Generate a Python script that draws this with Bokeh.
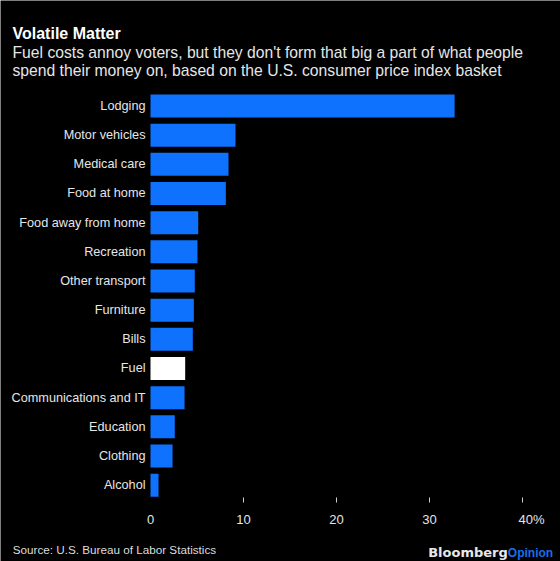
from bokeh.plotting import figure
from bokeh.models import Range1d, Label, ColumnDataSource
from bokeh.core.properties import value
from bokeh.embed import file_html
from bokeh.resources import INLINE

# ---------------- data ----------------
categories = ["Lodging", "Motor vehicles", "Medical care", "Food at home",
              "Food away from home", "Recreation", "Other transport", "Furniture",
              "Bills", "Fuel", "Communications and IT", "Education", "Clothing", "Alcohol"]
shares = [32.7, 9.14, 8.39, 8.1, 5.13, 5.05, 4.76, 4.66, 4.55, 3.73, 3.66, 2.61, 2.37, 0.86]
highlight = "Fuel"
tick_values = [0, 10, 20, 30, 40]
tick_labels = ["0", "10", "20", "30", "40%"]
title_text = "Volatile Matter"
subtitle_lines = ["Fuel costs annoy voters, but they don't form that big a part of what people",
                  "spend their money on, based on the U.S. consumer price index basket"]
source_text = "Source: U.S. Bureau of Labor Statistics"

# ---------------- layout / style ----------------
W, H = 560, 561
X0_PX, XMAX_PX = 150.0, 522.0          # pixel position of 0 and 40
XMAX_VAL = tick_values[-1]
PPU = (XMAX_PX - X0_PX) / XMAX_VAL
ROW0_PX, PITCH = 105.5, 29.165          # centre of first row, row pitch
BLUE = "#0f72ff"
BG = "#000000"
FONT = "Liberation Sans"
TXT = "#e6e6e6"


def row_at(px):
    return (px - ROW0_PX) / PITCH


p = figure(width=W, height=H, output_backend="svg", toolbar_location=None,
           x_range=Range1d(-X0_PX / PPU, (W - X0_PX) / PPU),
           y_range=Range1d(row_at(H), row_at(0)),
           x_axis_location=None, y_axis_location=None,
           background_fill_color=BG, border_fill_color=BG, outline_line_color=None,
           min_border=0)
p.grid.visible = False

rows = list(range(len(categories)))
colors = ["#ffffff" if c == highlight else BLUE for c in categories]
src = ColumnDataSource(dict(row=rows, cat=categories, val=shares, color=colors))

p.hbar(y="row", left=0, right="val", height=0.789, fill_color="color",
       line_color=None, source=src)

# category labels (left axis)
p.text(x=0, y="row", text="cat", source=src, x_offset=-5,
       text_align="right", text_baseline="middle",
       text_font=value(FONT), text_font_size=value("12.7px"), text_color=TXT)

# value axis: tick marks (none at zero) and labels
marks = [t for t in tick_values if t != 0]
p.segment(x0=marks, x1=marks, y0=[row_at(497)] * len(marks), y1=[row_at(502)] * len(marks),
          line_color="#cfcfcf", line_width=1)

lab_y = row_at(519)
p.text(x=tick_values[:-1], y=[lab_y] * (len(tick_values) - 1), text=tick_labels[:-1],
       text_align="center", text_baseline="alphabetic",
       text_font=value(FONT), text_font_size=value("13px"), text_color=TXT)
p.text(x=tick_values[-1:], y=[lab_y], text=tick_labels[-1:], x_offset=-4,
       text_align="left", text_baseline="alphabetic",
       text_font=value(FONT), text_font_size=value("13px"), text_color=TXT)


def slabel(x, baseline_px, text, size, color=TXT, style="normal", align="left", font=FONT):
    p.add_layout(Label(x=x, y=H - baseline_px, x_units="screen", y_units="screen", text=text,
                       text_font=font, text_font_size=size, text_color=color,
                       text_font_style=style, text_align=align, text_baseline="alphabetic"))


slabel(12, 33, title_text, "16px", color="#ffffff", style="bold")
slabel(12, 51.5, subtitle_lines[0], "15.7px")
slabel(12, 70, subtitle_lines[1], "15.7px")

slabel(12.3, 548.5, source_text, "11.7px", color="#dcdcdc")
slabel(507.3, 552, "Bloomberg", "13px", color="#e8e8e8", style="bold", align="right",
       font="DejaVu Sans")
slabel(507.3, 552, "Opinion", "12px", color="#1a6fe8", style="bold", align="left")

open("out.html", "w").write(file_html(p, INLINE))
